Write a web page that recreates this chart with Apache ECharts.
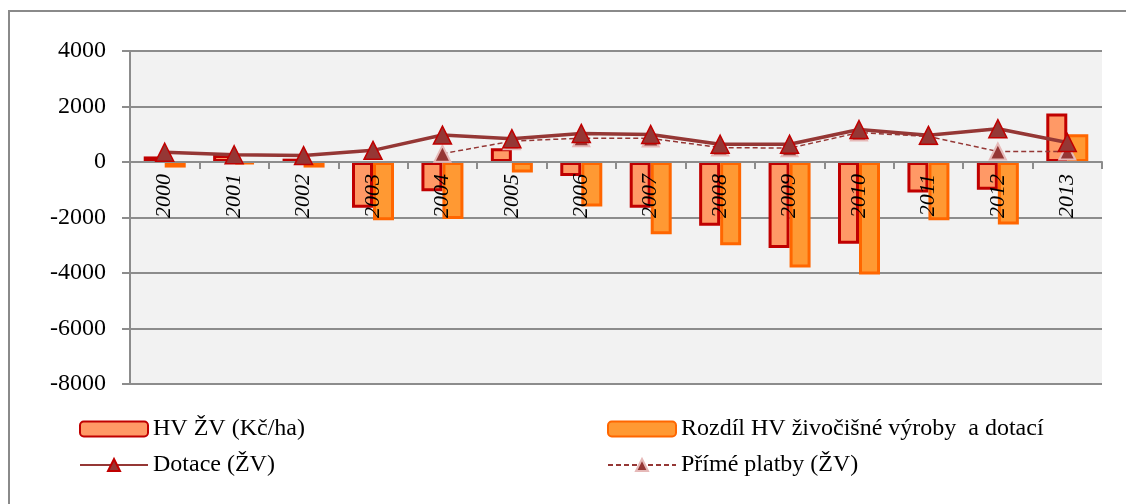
<!DOCTYPE html>
<html><head><meta charset="utf-8">
<script src="https://cdn.jsdelivr.net/npm/echarts@6/dist/echarts.min.js"></script>
<style>html,body{margin:0;padding:0;background:#fff}#c{width:1126px;height:504px}</style>
</head><body><div id="c"></div>
<script>
const categories = ['2000','2001','2002','2003','2004','2005','2006','2007','2008','2009','2010','2011','2012','2013'];
const hvZV = [200, 250, 120, -1650, -1050, 500, -500, -1650, -2300, -3100, -2950, -1100, -1000, 1750];
const rozdil = [-200, -80, -200, -2100, -2050, -380, -1600, -2600, -3000, -3800, -4050, -2100, -2250, 1000];
const dotace = [350, 260, 230, 420, 970, 840, 1030, 990, 640, 640, 1170, 960, 1200, 700];
const primePlatby = [null, null, null, null, 300, 750, 860, 850, 520, 500, 1060, 920, 380, 380];
const yTicks = [-8000, -6000, -4000, -2000, 0, 2000, 4000];

const font = '"Liberation Serif", "Times New Roman", serif';
const gridTop = 51, gridBottom = 120, H = 504;
const plotH = H - gridTop - gridBottom;
const yMin = yTicks[0], yMax = yTicks[yTicks.length - 1];
// shift the category axis up so it sits on the zero line
const zeroOffset = -plotH * (0 - yMin) / (yMax - yMin);

const chart = echarts.init(document.getElementById('c'));
chart.setOption({
  animation: false,
  backgroundColor: '#ffffff',
  graphic: [{
    type: 'rect', shape: {x: 9, y: 11, width: 1200, height: 600},
    style: {fill: 'none', stroke: '#8a8a8a', lineWidth: 2}, z: -10, silent: true
  }],
  grid: {left: 130, right: 24, top: gridTop, bottom: gridBottom, show: true, backgroundColor: '#f2f2f2', borderWidth: 0},
  legend: [{
    data: ['HV ŽV (Kč/ha)', 'Dotace (ŽV)'],
    orient: 'vertical', left: 74, top: 412, itemWidth: 68, itemHeight: 15, itemGap: 12,
    textStyle: {fontFamily: font, fontSize: 24, color: '#000', padding: [0,0,0,0]}
  }, {
    data: ['Rozdíl HV živočišné výroby  a dotací', 'Přímé platby (ŽV)'],
    orient: 'vertical', left: 602, top: 412, itemWidth: 68, itemHeight: 15, itemGap: 12,
    textStyle: {fontFamily: font, fontSize: 24, color: '#000', padding: [0,0,0,0]}
  }],
  xAxis: {
    type: 'category', data: categories, offset: zeroOffset, z: 3,
    axisLine: {onZero: false, lineStyle: {color: '#8c8c8c', width: 2}},
    axisTick: {show: true, length: 7, inside: false, lineStyle: {color: '#8c8c8c', width: 2}},
    axisLabel: {rotate: 90, margin: 12, fontFamily: font, fontSize: 22, fontStyle: 'italic', color: '#000'}
  },
  yAxis: {
    type: 'value', min: yMin, max: yMax, interval: 2000,
    axisLine: {show: true, lineStyle: {color: '#8c8c8c', width: 2}},
    axisTick: {show: true, length: 8, lineStyle: {color: '#8c8c8c', width: 2}},
    axisLabel: {fontFamily: font, fontSize: 24, color: '#000', margin: 24, formatter: v => String(v)},
    splitLine: {lineStyle: {color: '#8c8c8c', width: 2}}
  },
  series: [{
    name: 'HV ŽV (Kč/ha)', type: 'bar', data: hvZV, barWidth: 21, barGap: '0%',
    itemStyle: {color: '#ff9966', borderColor: '#c00000', borderWidth: 3}
  }, {
    name: 'Rozdíl HV živočišné výroby  a dotací', type: 'bar', data: rozdil, barWidth: 21,
    itemStyle: {color: '#ff9933', borderColor: '#ff6600', borderWidth: 3}
  }, {
    name: 'Dotace (ŽV)', type: 'line', data: dotace, z: 5,
    lineStyle: {color: '#953735', width: 3.5},
    symbol: 'triangle', symbolSize: 18,
    itemStyle: {color: '#953735', borderColor: '#c00000', borderWidth: 1.5}
  }, {
    name: 'Přímé platby (ŽV)', type: 'line', data: primePlatby, z: 4,
    lineStyle: {color: '#953735', width: 1.5, type: [5, 3]},
    symbol: 'triangle', symbolSize: 16,
    itemStyle: {color: '#953735', borderColor: '#e6b9b8', borderWidth: 2}
  }]
});
</script></body></html>
